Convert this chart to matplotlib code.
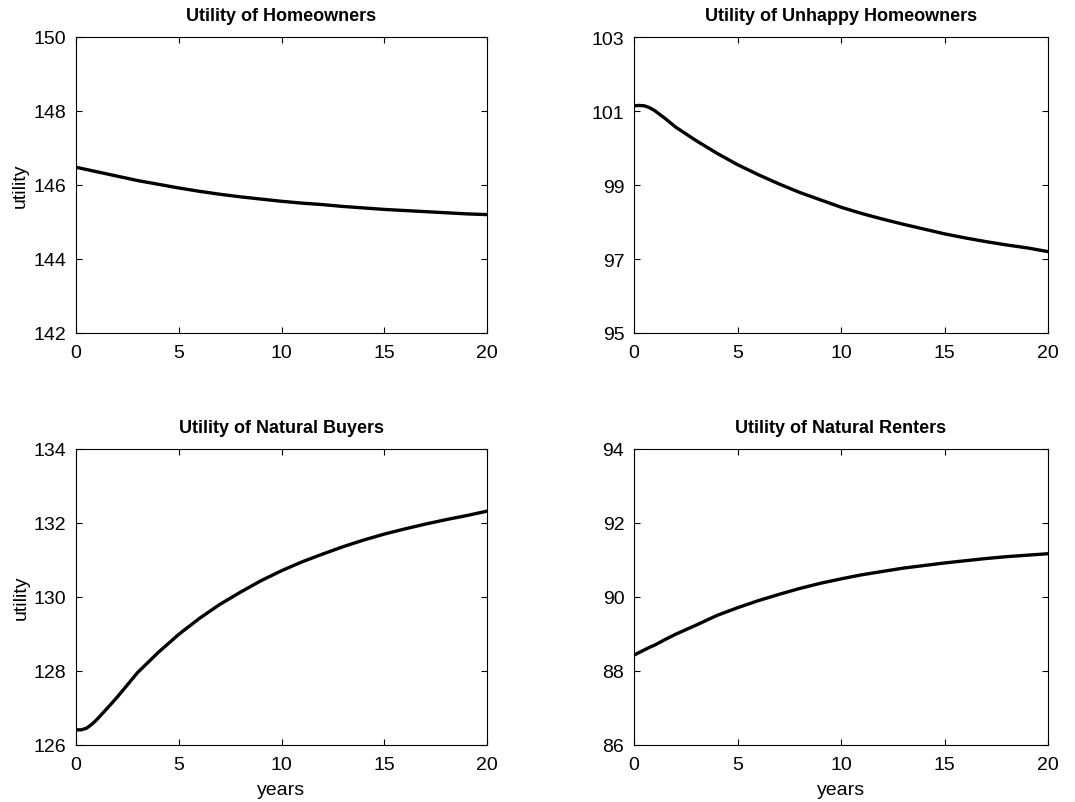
import numpy as np
import matplotlib.pyplot as plt

plt.rcParams['font.family'] = ['Liberation Sans', 'DejaVu Sans']

years = [0, 0.25, 0.5, 0.75, 1, 1.5, 2, 3, 4, 5, 6, 7, 8, 9, 10, 11, 12, 13, 14, 15,
         16, 17, 18, 19, 20]

homeowners = [146.48, 146.45, 146.42, 146.39, 146.36, 146.30, 146.24, 146.12, 146.02,
              145.92, 145.83, 145.75, 145.68, 145.62, 145.56, 145.51, 145.47, 145.42,
              145.38, 145.34, 145.31, 145.28, 145.25, 145.22, 145.20]
unhappy = [101.14, 101.15, 101.14, 101.09, 101.01, 100.80, 100.57, 100.20, 99.86, 99.55,
           99.28, 99.03, 98.80, 98.60, 98.40, 98.23, 98.08, 97.94, 97.81, 97.68, 97.57,
           97.47, 97.38, 97.30, 97.20]
buyers = [126.41, 126.41, 126.45, 126.55, 126.68, 126.98, 127.29, 127.96, 128.50, 128.99,
          129.42, 129.80, 130.13, 130.44, 130.71, 130.95, 131.16, 131.36, 131.54, 131.70,
          131.84, 131.97, 132.09, 132.20, 132.32]
renters = [88.43, 88.50, 88.57, 88.64, 88.70, 88.85, 88.99, 89.24, 89.50, 89.71, 89.90,
           90.07, 90.23, 90.37, 90.49, 90.60, 90.69, 90.78, 90.85, 90.92, 90.98, 91.04,
           91.09, 91.13, 91.17]

titles = ['Utility of Homeowners', 'Utility of Unhappy Homeowners',
          'Utility of Natural Buyers', 'Utility of Natural Renters']
series = [homeowners, unhappy, buyers, renters]
ylims = [(142, 150), (95, 103), (126, 134), (86, 94)]

W, H = 1075, 803
boxes = [(76, 38, 411, 296), (634, 38, 414, 296),
         (76, 450, 411, 296), (634, 450, 414, 296)]

fig = plt.figure(figsize=(W / 100, H / 100), dpi=100)

for i, (title, vals, (lo, hi), (bx, by, bw, bh)) in enumerate(zip(titles, series, ylims, boxes)):
    ax = fig.add_axes([bx / W, 1 - (by + bh) / H, bw / W, bh / H])
    ax.plot(years, vals, color='black', linewidth=2.4)
    ax.set_xlim(0, 20)
    ax.set_ylim(lo, hi)
    ax.set_xticks([0, 5, 10, 15, 20])
    ax.set_yticks(np.arange(lo, hi + 1, 2))
    ax.tick_params(direction='in', top=True, right=True, length=4, width=0.8,
                   labelsize=14)
    ax.tick_params(axis='x', pad=8)
    ax.tick_params(axis='y', pad=7)
    for s in ax.spines.values():
        s.set_linewidth(0.8)
    ax.set_title(title, fontsize=13, fontweight='bold', pad=12)
    if i % 2 == 0:
        ax.set_ylabel('utility', fontsize=14, labelpad=3)
    if i >= 2:
        ax.set_xlabel('years', fontsize=14, labelpad=6)

fig.savefig('out.png', dpi=100)
